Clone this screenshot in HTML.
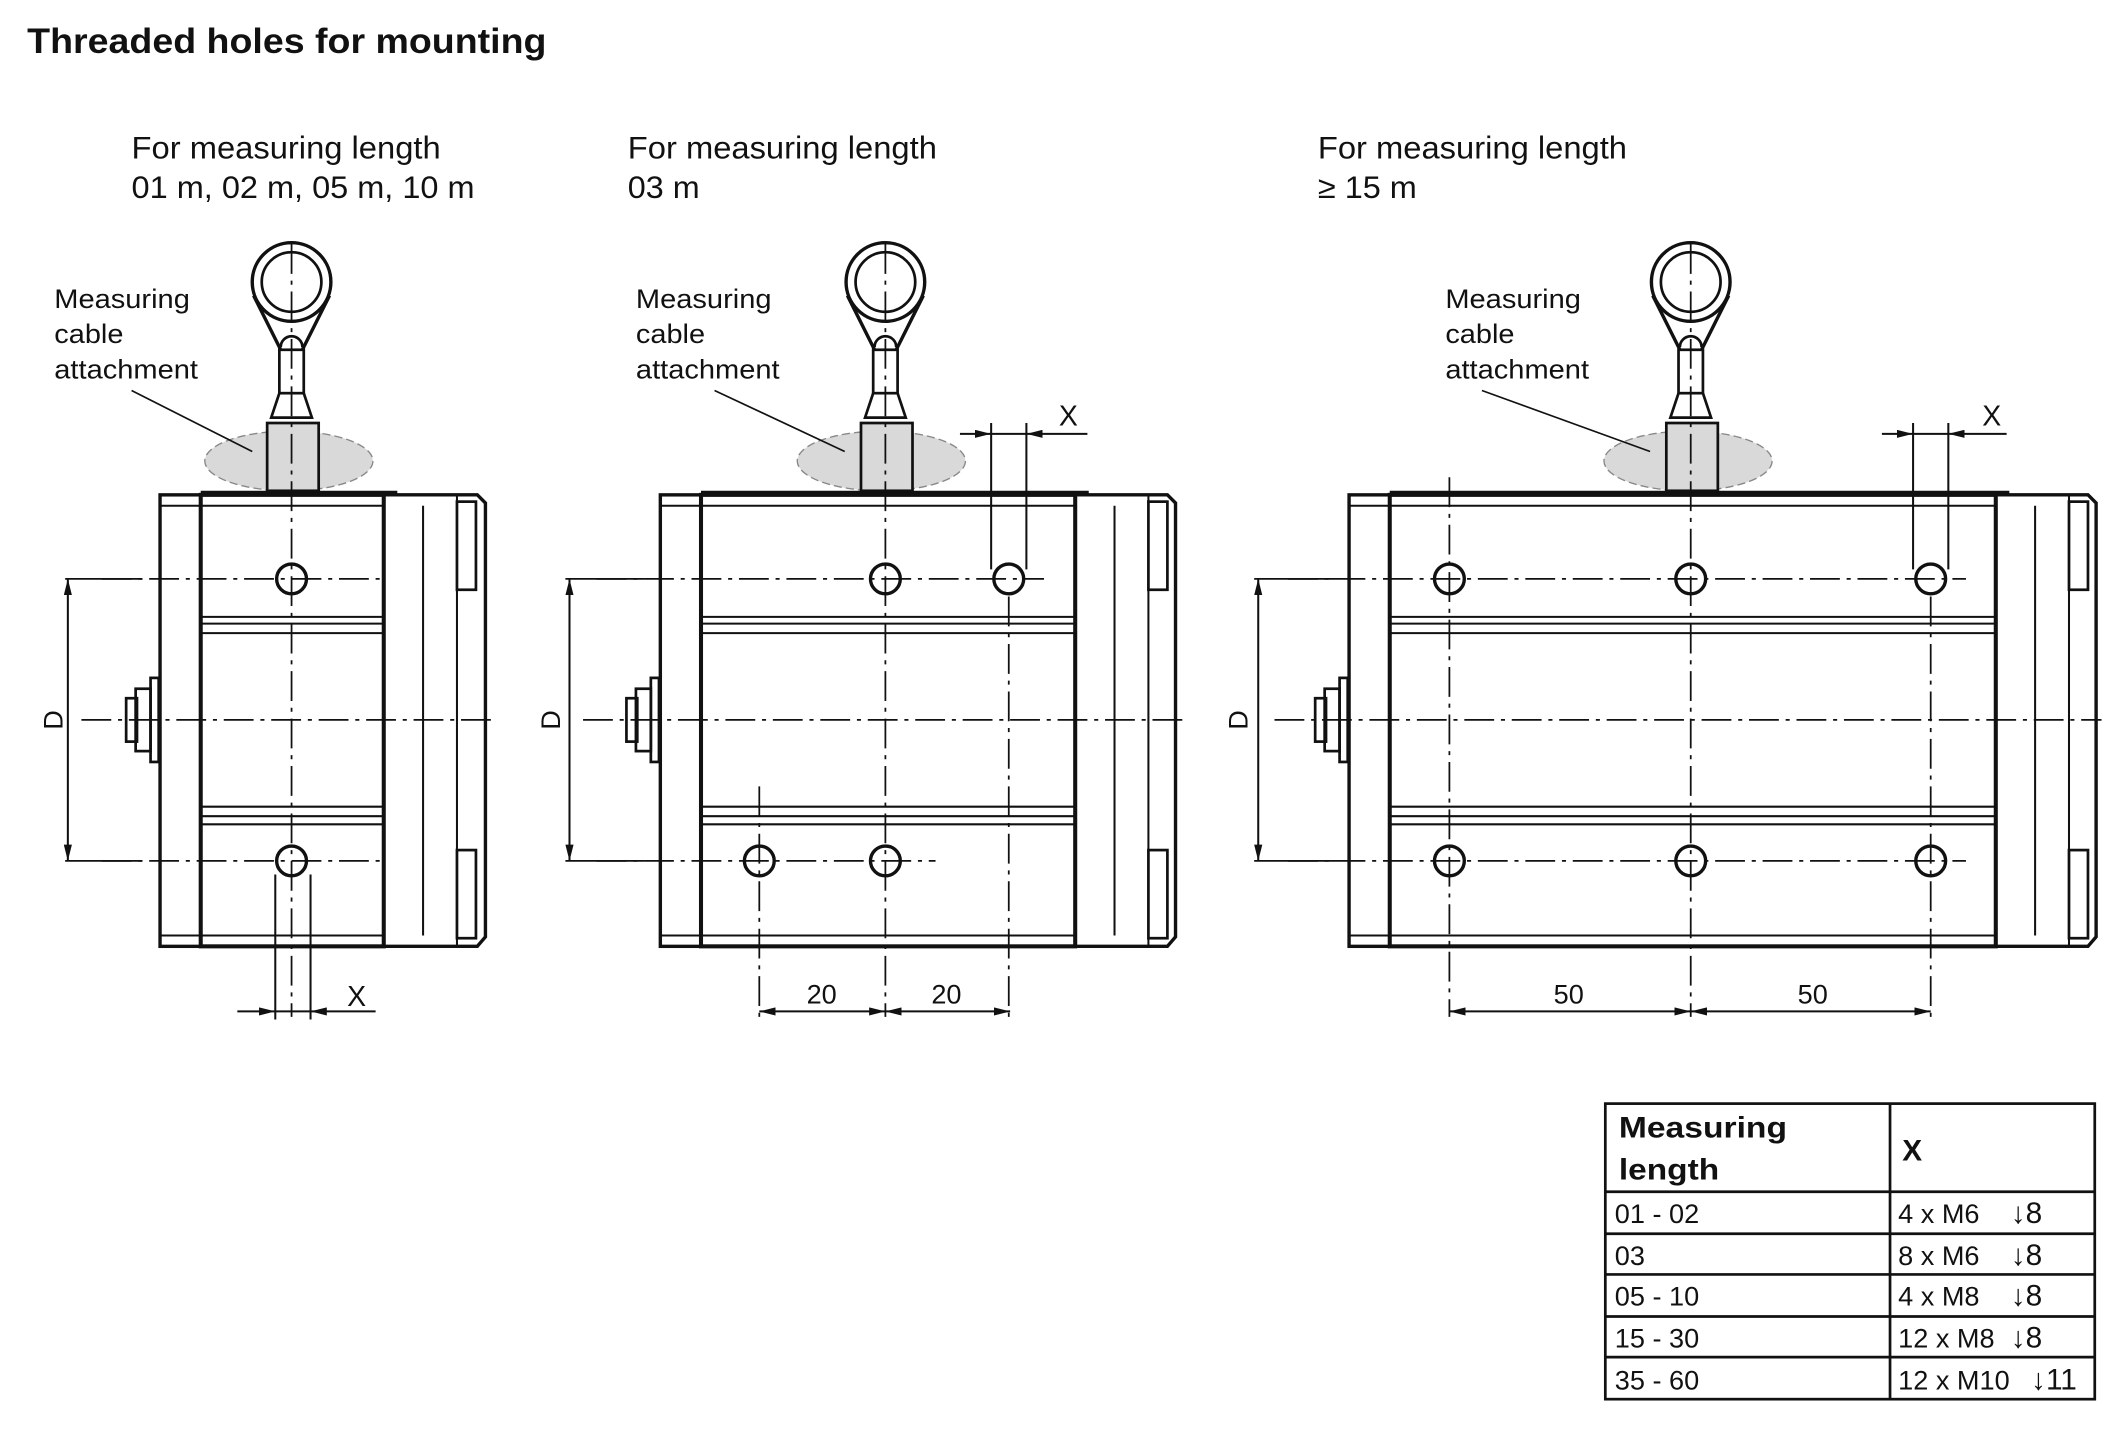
<!DOCTYPE html>
<html><head><meta charset="utf-8"><style>
html,body{margin:0;padding:0;background:#fff;}
svg{display:block;}
text{font-family:"Liberation Sans",Arial,sans-serif;fill:#111;}
</style></head><body>
<svg width="2126" height="1429" viewBox="0 0 1568 1054" xmlns="http://www.w3.org/2000/svg">
<defs>
<marker id="a" viewBox="0 0 12 6" refX="12" refY="3" markerWidth="12" markerHeight="6" orient="auto-start-reverse" markerUnits="userSpaceOnUse"><path d="M0,0 L12,3 L0,6 z" fill="#111"/></marker>
</defs>
<g stroke="#111" fill="none">
<text x="20" y="39" font-size="26" font-weight="bold" stroke="none" textLength="383" lengthAdjust="spacingAndGlyphs">Threaded holes for mounting</text>
<g font-size="23" stroke="none">
<text x="97" y="117" textLength="228" lengthAdjust="spacingAndGlyphs">For measuring length</text><text x="97" y="146" textLength="253" lengthAdjust="spacingAndGlyphs">01 m, 02 m, 05 m, 10 m</text>
<text x="463" y="117" textLength="228" lengthAdjust="spacingAndGlyphs">For measuring length</text><text x="463" y="146" textLength="53" lengthAdjust="spacingAndGlyphs">03 m</text>
<text x="972" y="117" textLength="228" lengthAdjust="spacingAndGlyphs">For measuring length</text><text x="972" y="146" textLength="73" lengthAdjust="spacingAndGlyphs">≥ 15 m</text>
</g>
<g font-size="20" stroke="none">
<text x="40" y="227" textLength="100" lengthAdjust="spacingAndGlyphs">Measuring</text><text x="40" y="253" textLength="51" lengthAdjust="spacingAndGlyphs">cable</text><text x="40" y="279" textLength="106" lengthAdjust="spacingAndGlyphs">attachment</text>
<text x="469" y="227" textLength="100" lengthAdjust="spacingAndGlyphs">Measuring</text><text x="469" y="253" textLength="51" lengthAdjust="spacingAndGlyphs">cable</text><text x="469" y="279" textLength="106" lengthAdjust="spacingAndGlyphs">attachment</text>
<text x="1066" y="227" textLength="100" lengthAdjust="spacingAndGlyphs">Measuring</text><text x="1066" y="253" textLength="51" lengthAdjust="spacingAndGlyphs">cable</text><text x="1066" y="279" textLength="106" lengthAdjust="spacingAndGlyphs">attachment</text>
</g>

<!-- ===== Drawing 1 ===== -->
<g>
<ellipse cx="213" cy="340" rx="62" ry="22" fill="#d9d9d9" stroke="#888" stroke-dasharray="6 3"/>
<line x1="97" y1="288" x2="186" y2="333" stroke-width="1.2"/>
<circle cx="215" cy="208" r="29" stroke-width="2.5"/><circle cx="215" cy="208" r="22" stroke-width="2"/>
<path d="M187,218 L207,258 M243,218 L223,258" stroke-width="2.5"/>
<path d="M207,256 A8,8 0 0 1 223,256" stroke-width="2"/>
<rect x="206" y="258" width="18" height="32" stroke-width="2"/>
<path d="M206,290 L200,308 L230,308 L224,290" stroke-width="2"/>
<rect x="197" y="312" width="38" height="50" fill="#d9d9d9" stroke-width="2"/>
<line x1="148" y1="363" x2="293" y2="363" stroke-width="2"/>
<rect x="118" y="365" width="30" height="333" stroke-width="2.5"/>
<rect x="148" y="365" width="135" height="333" stroke-width="3"/>
<path d="M118,373H283 M148,455H283 M148,460H283 M148,467H283 M148,595H283 M148,602H283 M148,608H283 M118,690H283" stroke-width="1.5"/>
<path d="M283,365 H352 L358,371 V691 L352,698 H283" stroke-width="2.5"/>
<path d="M312,373 V690 M337,365 V698" stroke-width="1.5"/>
<rect x="337" y="370" width="14" height="65" stroke-width="2"/><rect x="337" y="627" width="14" height="65" stroke-width="2"/>
<rect x="111" y="500" width="6" height="62" stroke-width="2"/><rect x="100" y="508" width="11" height="46" stroke-width="2"/><rect x="93" y="515" width="8" height="32" stroke-width="2"/>
<circle cx="215" cy="427" r="11" stroke-width="2.5"/><circle cx="215" cy="635" r="11" stroke-width="2.5"/>
<g stroke-dasharray="22 5 3 5" stroke-width="1.3">
<path d="M215,180V750 M75,427H285 M75,635H285 M60,531H362"/>
</g>
<path d="M48,427H105 M48,635H105" stroke-width="1.3"/>
<line x1="50" y1="427" x2="50" y2="635" stroke-width="1.5" marker-start="url(#a)" marker-end="url(#a)"/>
<text x="46" y="531" font-size="20" stroke="none" transform="rotate(-90 46 531)" text-anchor="middle">D</text>
<path d="M203,645V752 M229,645V752" stroke-width="1.5"/>
<line x1="175" y1="746" x2="203" y2="746" stroke-width="1.5" marker-end="url(#a)"/>
<line x1="277" y1="746" x2="229" y2="746" stroke-width="1.5" marker-end="url(#a)"/>
<line x1="203" y1="746" x2="229" y2="746" stroke-width="1.5"/>
<text x="256" y="742" font-size="21" stroke="none">X</text>
</g>

<!-- ===== Drawing 2 ===== -->
<g>
<ellipse cx="650" cy="340" rx="62" ry="22" fill="#d9d9d9" stroke="#888" stroke-dasharray="6 3"/>
<line x1="527" y1="288" x2="623" y2="333" stroke-width="1.2"/>
<circle cx="653" cy="208" r="29" stroke-width="2.5"/><circle cx="653" cy="208" r="22" stroke-width="2"/>
<path d="M625,218 L645,258 M681,218 L661,258" stroke-width="2.5"/>
<path d="M645,256 A8,8 0 0 1 661,256" stroke-width="2"/>
<rect x="644" y="258" width="18" height="32" stroke-width="2"/>
<path d="M644,290 L638,308 L668,308 L662,290" stroke-width="2"/>
<rect x="635" y="312" width="38" height="50" fill="#d9d9d9" stroke-width="2"/>
<line x1="517" y1="363" x2="803" y2="363" stroke-width="2"/>
<rect x="487" y="365" width="30" height="333" stroke-width="2.5"/>
<rect x="517" y="365" width="276" height="333" stroke-width="3"/>
<path d="M487,373H793 M517,455H793 M517,460H793 M517,467H793 M517,595H793 M517,602H793 M517,608H793 M487,690H793" stroke-width="1.5"/>
<path d="M793,365 H861 L867,371 V691 L861,698 H793" stroke-width="2.5"/>
<path d="M822,373 V690 M847,365 V698" stroke-width="1.5"/>
<rect x="847" y="370" width="14" height="65" stroke-width="2"/><rect x="847" y="627" width="14" height="65" stroke-width="2"/>
<rect x="480" y="500" width="6" height="62" stroke-width="2"/><rect x="469" y="508" width="11" height="46" stroke-width="2"/><rect x="462" y="515" width="8" height="32" stroke-width="2"/>
<circle cx="653" cy="427" r="11" stroke-width="2.5"/><circle cx="744" cy="427" r="11" stroke-width="2.5"/>
<circle cx="560" cy="635" r="11" stroke-width="2.5"/><circle cx="653" cy="635" r="11" stroke-width="2.5"/>
<g stroke-dasharray="22 5 3 5" stroke-width="1.3">
<path d="M653,180V750 M744,440V750 M560,580V750 M440,427H770 M440,635H690 M430,531H872"/>
</g>
<path d="M417,427H475 M417,635H475" stroke-width="1.3"/>
<line x1="420" y1="427" x2="420" y2="635" stroke-width="1.5" marker-start="url(#a)" marker-end="url(#a)"/>
<text x="413" y="531" font-size="20" stroke="none" transform="rotate(-90 413 531)" text-anchor="middle">D</text>
<path d="M731,312V420 M757,312V420" stroke-width="1.5"/>
<line x1="708" y1="320" x2="731" y2="320" stroke-width="1.5" marker-end="url(#a)"/>
<line x1="802" y1="320" x2="757" y2="320" stroke-width="1.5" marker-end="url(#a)"/>
<line x1="731" y1="320" x2="757" y2="320" stroke-width="1.5"/>
<text x="781" y="314" font-size="21" stroke="none">X</text>
<line x1="560" y1="746" x2="653" y2="746" stroke-width="1.5" marker-start="url(#a)" marker-end="url(#a)"/>
<line x1="653" y1="746" x2="745" y2="746" stroke-width="1.5" marker-start="url(#a)" marker-end="url(#a)"/>
<text x="606" y="740" font-size="20" stroke="none" text-anchor="middle">20</text>
<text x="698" y="740" font-size="20" stroke="none" text-anchor="middle">20</text>
</g>

<!-- ===== Drawing 3 ===== -->
<g>
<ellipse cx="1245" cy="340" rx="62" ry="22" fill="#d9d9d9" stroke="#888" stroke-dasharray="6 3"/>
<line x1="1093" y1="288" x2="1217" y2="333" stroke-width="1.2"/>
<circle cx="1247" cy="208" r="29" stroke-width="2.5"/><circle cx="1247" cy="208" r="22" stroke-width="2"/>
<path d="M1219,218 L1239,258 M1275,218 L1255,258" stroke-width="2.5"/>
<path d="M1239,256 A8,8 0 0 1 1255,256" stroke-width="2"/>
<rect x="1238" y="258" width="18" height="32" stroke-width="2"/>
<path d="M1238,290 L1232,308 L1262,308 L1256,290" stroke-width="2"/>
<rect x="1229" y="312" width="38" height="50" fill="#d9d9d9" stroke-width="2"/>
<line x1="1025" y1="363" x2="1482" y2="363" stroke-width="2"/>
<rect x="995" y="365" width="30" height="333" stroke-width="2.5"/>
<rect x="1025" y="365" width="447" height="333" stroke-width="3"/>
<path d="M995,373H1472 M1025,455H1472 M1025,460H1472 M1025,467H1472 M1025,595H1472 M1025,602H1472 M1025,608H1472 M995,690H1472" stroke-width="1.5"/>
<path d="M1472,365 H1540 L1546,371 V691 L1540,698 H1472" stroke-width="2.5"/>
<path d="M1501,373 V690 M1526,365 V698" stroke-width="1.5"/>
<rect x="1526" y="370" width="14" height="65" stroke-width="2"/><rect x="1526" y="627" width="14" height="65" stroke-width="2"/>
<rect x="988" y="500" width="6" height="62" stroke-width="2"/><rect x="977" y="508" width="11" height="46" stroke-width="2"/><rect x="970" y="515" width="8" height="32" stroke-width="2"/>
<circle cx="1069" cy="427" r="11" stroke-width="2.5"/><circle cx="1247" cy="427" r="11" stroke-width="2.5"/><circle cx="1424" cy="427" r="11" stroke-width="2.5"/>
<circle cx="1069" cy="635" r="11" stroke-width="2.5"/><circle cx="1247" cy="635" r="11" stroke-width="2.5"/><circle cx="1424" cy="635" r="11" stroke-width="2.5"/>
<g stroke-dasharray="22 5 3 5" stroke-width="1.3">
<path d="M1247,180V750 M1069,352V750 M1424,440V750 M950,427H1450 M950,635H1450 M940,531H1550"/>
</g>
<path d="M925,427H985 M925,635H985" stroke-width="1.3"/>
<line x1="928" y1="427" x2="928" y2="635" stroke-width="1.5" marker-start="url(#a)" marker-end="url(#a)"/>
<text x="920" y="531" font-size="20" stroke="none" transform="rotate(-90 920 531)" text-anchor="middle">D</text>
<path d="M1411,312V420 M1437,312V420" stroke-width="1.5"/>
<line x1="1388" y1="320" x2="1411" y2="320" stroke-width="1.5" marker-end="url(#a)"/>
<line x1="1480" y1="320" x2="1437" y2="320" stroke-width="1.5" marker-end="url(#a)"/>
<line x1="1411" y1="320" x2="1437" y2="320" stroke-width="1.5"/>
<text x="1462" y="314" font-size="21" stroke="none">X</text>
<line x1="1069" y1="746" x2="1247" y2="746" stroke-width="1.5" marker-start="url(#a)" marker-end="url(#a)"/>
<line x1="1247" y1="746" x2="1424" y2="746" stroke-width="1.5" marker-start="url(#a)" marker-end="url(#a)"/>
<text x="1157" y="740" font-size="20" stroke="none" text-anchor="middle">50</text>
<text x="1337" y="740" font-size="20" stroke="none" text-anchor="middle">50</text>
</g>

<!-- ===== Table ===== -->
<g stroke-width="2">
<rect x="1184" y="814" width="361" height="218"/>
<path d="M1394,814V1032 M1184,879H1545 M1184,910H1545 M1184,940H1545 M1184,971H1545 M1184,1001H1545"/>
</g>
<g stroke="none">
<text x="1194" y="839" font-size="22" font-weight="bold" textLength="124" lengthAdjust="spacingAndGlyphs">Measuring</text>
<text x="1194" y="870" font-size="22" font-weight="bold" textLength="74" lengthAdjust="spacingAndGlyphs">length</text>
<text x="1403" y="856" font-size="22" font-weight="bold">X</text>
<g font-size="20">
<text x="1191" y="902">01 - 02</text><text x="1400" y="902">4 x M6</text><text x="1483" y="902" font-size="22">↓8</text>
<text x="1191" y="933">03</text><text x="1400" y="933">8 x M6</text><text x="1483" y="933" font-size="22">↓8</text>
<text x="1191" y="963">05 - 10</text><text x="1400" y="963">4 x M8</text><text x="1483" y="963" font-size="22">↓8</text>
<text x="1191" y="994">15 - 30</text><text x="1400" y="994">12 x M8</text><text x="1483" y="994" font-size="22">↓8</text>
<text x="1191" y="1025">35 - 60</text><text x="1400" y="1025">12 x M10</text><text x="1498" y="1025" font-size="22">↓11</text>
</g>
</g>
</g>
</svg>
</body></html>
